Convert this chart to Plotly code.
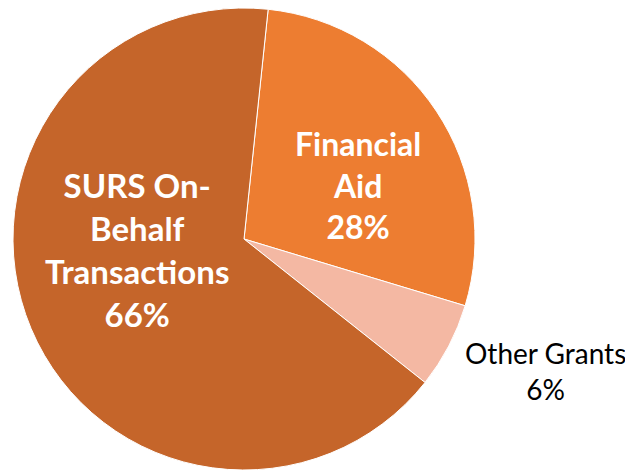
import plotly.graph_objects as go

labels = ["Financial Aid", "Other Grants", "SURS On-Behalf Transactions"]
label_lines = [["Financial", "Aid"], ["Other Grants"], ["SURS On-", "Behalf", "Transactions"]]
values = [28, 6, 66]
colors = ["#ED7D31", "#F4B8A3", "#C5652A"]

# page body has an 8px margin; draw in a 625x464 figure offset by it
W, H, OFF = 625, 464, 8

def px(x):
    return min(1, max(0, (x - OFF) / W))

def py(y):
    return min(1, max(0, 1 - (y - OFF) / H))

fig = go.Figure(go.Pie(
    labels=labels,
    values=values,
    sort=False,
    direction="clockwise",
    rotation=6,
    marker=dict(colors=colors, line=dict(color="white", width=1)),
    textinfo="none",
    hoverinfo="label+percent",
    showlegend=False,
    domain=dict(x=[px(13), px(475)], y=[py(470), py(8)]),
))

total = sum(values)
pct = [f"{round(v/total*100)}%" for v in values]

pos = [(px(358), py(185)), (px(545), py(371)), (px(137), py(249))]
styles = [
    dict(size=32, color="white", family="Lato", bold=True),
    dict(size=28, color="black", family="Lato", bold=False),
    dict(size=33, color="white", family="Lato", bold=True),
]
for lines, p, (x, y), st in zip(label_lines, pct, pos, styles):
    text = "<br>".join(lines + [p])
    if st["bold"]:
        text = "<b>" + text + "</b>"
    font = {k: v for k, v in st.items() if k != "bold"}
    fig.add_annotation(x=x, y=y, xref="paper", yref="paper", text=text,
                       showarrow=False, font=font, align="center",
                       xanchor="center", yanchor="middle")

fig.update_layout(
    width=W, height=H,
    margin=dict(l=0, r=0, t=0, b=0),
    paper_bgcolor="white", plot_bgcolor="white",
)
fig.write_html("out.html")
